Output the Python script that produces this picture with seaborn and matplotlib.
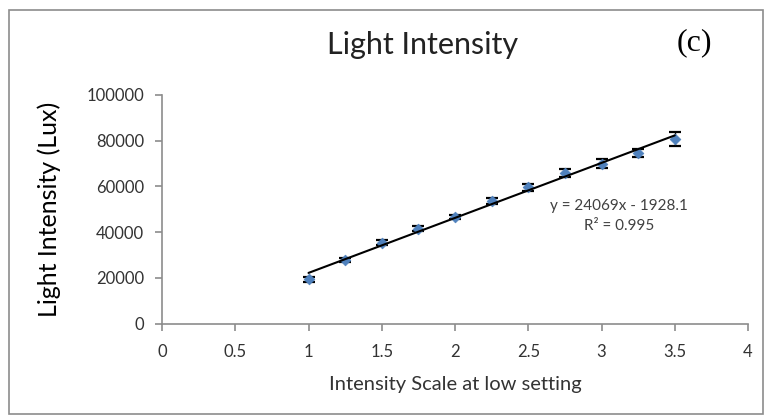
import numpy as np
import pandas as pd
import matplotlib
matplotlib.use("Agg")
import matplotlib.pyplot as plt
import seaborn as sns
from matplotlib.patches import Rectangle

# Measured light intensity at each setting of the low-intensity scale
scale = [1.0, 1.25, 1.5, 1.75, 2.0, 2.25, 2.5, 2.75, 3.0, 3.25, 3.5]
lux = [19300, 27700, 35300, 41500, 46800, 53600, 59700, 66000, 70000, 74700, 80600]
lux_err = [1200, 900, 1100, 1100, 900, 1400, 1500, 1700, 1900, 1800, 3100]

# Linear trendline
slope = 24069
intercept = -1928.1
r_squared = 0.995

x_ticks = [0, 0.5, 1, 1.5, 2, 2.5, 3, 3.5, 4]
y_ticks = [0, 20000, 40000, 60000, 80000, 100000]

df = pd.DataFrame({"scale": scale, "lux": lux, "err": lux_err})

sns.set_style("white")
plt.rcParams["font.family"] = ["Lato", "DejaVu Sans"]

fig = plt.figure(figsize=(7.66, 4.17), dpi=100)
ax = fig.add_axes([0.2115, 0.2242, 0.765, 0.548])

# chart border
fig.patches.append(Rectangle((0.012, 0.006), 0.984, 0.969, transform=fig.transFigure,
                             fill=False, edgecolor="#8c8c8c", linewidth=1.2))

ax.errorbar(df["scale"], df["lux"], yerr=df["err"], fmt="none", ecolor="black",
            elinewidth=1.0, capsize=4.5, capthick=1.6, zorder=2)
sns.scatterplot(data=df, x="scale", y="lux", ax=ax, marker="D", s=30,
                color="#4F81BD", edgecolor="#4F81BD", linewidth=0.5, zorder=3)

xs = np.array([scale[0], scale[-1]])
ax.plot(xs, slope * xs + intercept, color="black", linewidth=1.5, zorder=4)

sign = "-" if intercept < 0 else "+"
ax.text(3.12, 51300, f"y = {slope}x {sign} {abs(intercept)}", ha="center", va="center",
        fontsize=11, color="#404040")
ax.text(3.12, 42600, f"R² = {r_squared}", ha="center", va="center",
        fontsize=11, color="#404040")

ax.set_xlim(0, 4)
ax.set_ylim(0, 100000)
ax.set_xticks(x_ticks)
ax.set_xticklabels([f"{t:g}" for t in x_ticks])
ax.set_yticks(y_ticks)
ax.set_yticklabels([str(t) for t in y_ticks])

for side in ["top", "right"]:
    ax.spines[side].set_visible(False)
for side in ["left", "bottom"]:
    ax.spines[side].set_color("#8c8c8c")
    ax.spines[side].set_linewidth(1.2)

ax.tick_params(axis="both", which="major", direction="out", length=5, width=1.2,
               color="#8c8c8c", labelsize=12, labelcolor="#333333", pad=8)
ax.tick_params(axis="x", pad=10)
ax.tick_params(bottom=True, left=True)

ax.set_xlabel("Intensity Scale at low setting", fontsize=14.5, color="#333333", labelpad=11)
ax.set_ylabel("Light Intensity (Lux)", fontsize=18, color="black", labelpad=18)

fig.text(0.551, 0.893, "Light Intensity", ha="center", va="center", fontsize=22,
         color="#222222")
fig.text(0.906, 0.897, "(c)", ha="center", va="center", fontsize=23,
         family="Liberation Serif", color="black")

fig.savefig("out.png", dpi=100)
